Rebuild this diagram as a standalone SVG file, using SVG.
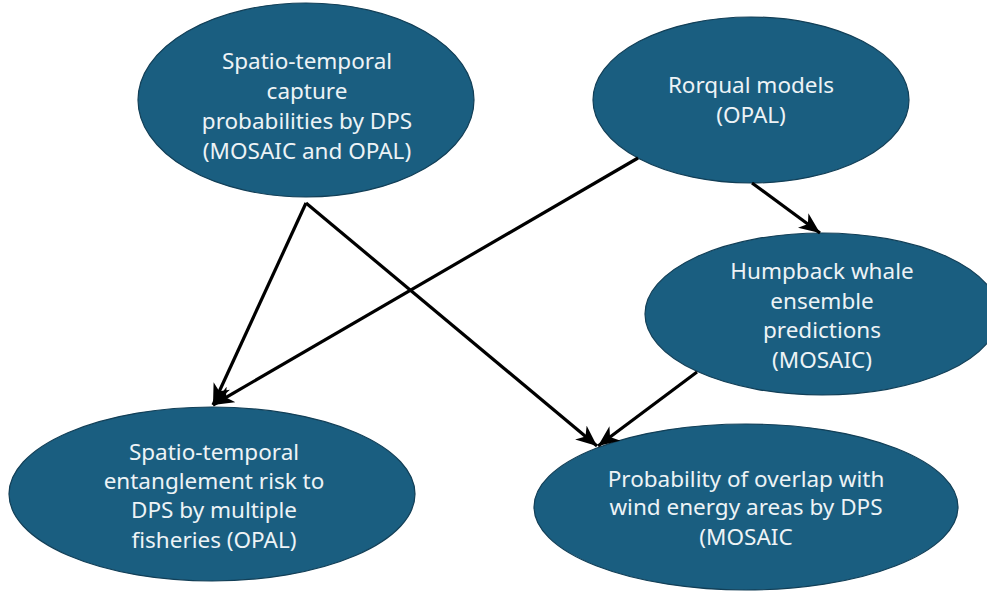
<svg xmlns="http://www.w3.org/2000/svg" width="987" height="592" viewBox="0 0 987 592">
<style>
.node ellipse{fill:#1a5e80;stroke:#123f57;stroke-width:1.2}
.node text{font-family:"Noto Sans","Open Sans",sans-serif;font-size:22.5px;fill:#edf3f6;text-anchor:middle}
.edge{stroke:#000;stroke-width:3.2;fill:none;marker-end:url(#ah)}
</style>
<defs>
<marker id="ah" markerUnits="userSpaceOnUse" markerWidth="22" markerHeight="18" refX="21" refY="9" orient="auto">
<path d="M0,0 L21,9 L0,18 L6,9 Z" fill="#000"/>
</marker>
</defs>
<rect width="987" height="592" fill="#fff"/>
<g id="n1" class="node">
<ellipse cx="306" cy="100" rx="168" ry="97"/>
<text x="307" y="69">Spatio-temporal</text>
<text x="307" y="99">capture</text>
<text x="307" y="129">probabilities by DPS</text>
<text x="307" y="159">(MOSAIC and OPAL)</text>
</g>
<g id="n2" class="node">
<ellipse cx="751" cy="100" rx="158" ry="83"/>
<text x="751" y="93">Rorqual models</text>
<text x="751" y="123">(OPAL)</text>
</g>
<g id="n3" class="node">
<ellipse cx="822" cy="314" rx="177" ry="81"/>
<text x="822" y="279">Humpback whale</text>
<text x="822" y="309">ensemble</text>
<text x="822" y="338">predictions</text>
<text x="822" y="368">(MOSAIC)</text>
</g>
<g id="n4" class="node">
<ellipse cx="212" cy="494" rx="203" ry="87"/>
<text x="214" y="460">Spatio-temporal</text>
<text x="214" y="489">entanglement risk to</text>
<text x="214" y="518">DPS by multiple</text>
<text x="214" y="548">fisheries (OPAL)</text>
</g>
<g id="n5" class="node">
<ellipse cx="746" cy="507" rx="212" ry="83"/>
<text x="746" y="487">Probability of overlap with</text>
<text x="746" y="515">wind energy areas by DPS</text>
<text x="746" y="545">(MOSAIC</text>
</g>
<g id="edges">
<line class="edge" x1="306" y1="203" x2="213" y2="405"/>
<line class="edge" x1="306" y1="203" x2="597" y2="446"/>
<line class="edge" x1="638" y1="158" x2="213" y2="405"/>
<line class="edge" x1="752" y1="183" x2="820" y2="233"/>
<line class="edge" x1="697" y1="372" x2="598" y2="446"/>
</g>
</svg>
